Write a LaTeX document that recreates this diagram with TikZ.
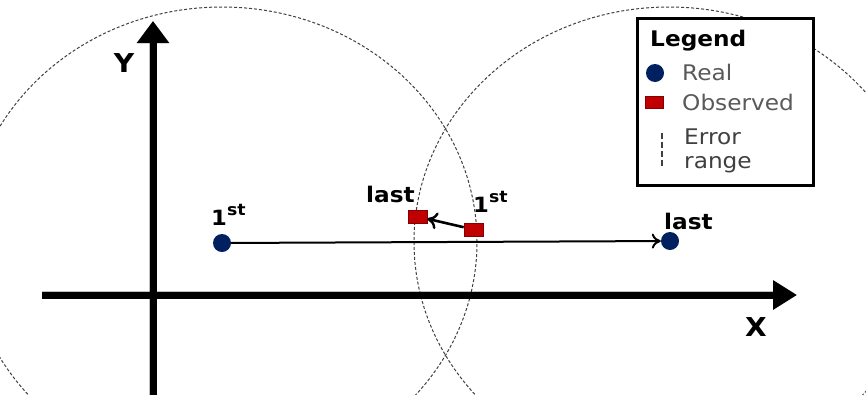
\documentclass[tikz,border=0pt]{standalone}
\usepackage{fontspec}
\setmainfont{DejaVu Sans}
\usetikzlibrary{arrows.meta}
\definecolor{navy}{HTML}{002060}
\definecolor{obsred}{HTML}{C00000}
\definecolor{lgray}{HTML}{5A5A5A}
\definecolor{dgray}{HTML}{404040}
\newcommand{\ordsup}[1]{{\fontsize{16}{16}\selectfont\raisebox{10pt}{#1}}}
\begin{document}
\begin{tikzpicture}[x=1pt,y=-1pt,
  errline/.style={dash pattern=on 3pt off 2pt, line width=1pt, black!75},
  axis/.style={line width=7pt},
  axshadow/.style={line width=8pt, black, opacity=0.25},
  realpt/.style={circle, fill=navy, minimum size=18pt, inner sep=0pt},
  obspt/.style={rectangle, fill=obsred, draw=obsred!70!black, line width=0.6pt, minimum width=19pt, minimum height=13pt, inner sep=0pt},
  lbl/.style={inner sep=0pt, anchor=base west, xscale=1.08, font=\fontsize{21.5}{24}\selectfont\bfseries},
  ordlbl/.style={inner sep=0pt, anchor=base west, xscale=1.08, font=\fontsize{21}{22}\selectfont\bfseries},
  axlbl/.style={inner sep=0pt, xscale=1.08, font=\fontsize{26}{28}\selectfont\bfseries},
  legtxt/.style={inner sep=0pt, anchor=base west, xscale=1.08, font=\fontsize{21.5}{24}\selectfont},
  conn/.style={line width=2pt, -{To[length=9pt,width=15pt,line width=2pt]}},
  obsconn/.style={line width=2.6pt, -{To[length=10pt,width=17pt,line width=2.4pt]}}
]
\useasboundingbox (0,0) rectangle (866,394);
\clip (0,0) rectangle (866,394);
\fill[white] (0,0) rectangle (866,394);

% error ranges
\draw[errline] (222,242) ellipse [x radius=255pt, y radius=235pt];
\draw[errline] (669,242) ellipse [x radius=255pt, y radius=235pt];

% axes
\coordinate (xs) at (42,295);
\coordinate (xe) at (797,295);
\coordinate (ys) at (153,400);
\coordinate (ye) at (153,21);
\begin{scope}[shift={(2,2)}]
\draw[axshadow, -{Triangle[length=24pt,width=28pt]}] (xs) -- (xe);
\draw[axshadow, -{Triangle[length=22pt,width=31pt]}] (ys) -- (ye);
\end{scope}
\draw[axis, -{Triangle[length=24pt,width=28pt]}] (xs) -- (xe);
\draw[axis, -{Triangle[length=22pt,width=31pt]}] (ys) -- (ye);
\node[axlbl] (ylab) at (124,63) {Y};
\node[axlbl] (xlab) at (756,327) {X};

% real points
\node[realpt] (r1) at (222,243) {};
\node[realpt] (rl) at (670,241) {};
\draw[conn] (r1) -- (rl);
\node[ordlbl] (r1lab) at (211,225) {1\ordsup{st}};
\node[lbl] (rllab) at (664,229) {last};

% observed points
\node[obspt] (ol) at (417.5,216.5) {};
\node[obspt] (o1) at (473.5,229.5) {};
\draw[obsconn] (o1) -- (ol);
\node[lbl] (ollab) at (366,202) {last};
\node[ordlbl] (o1lab) at (473,212) {1\ordsup{st}};

% legend
\begin{scope}[shift={(2,2)}]
\draw[line width=2.5pt, black, opacity=0.25] (636,17) rectangle (812,184);
\end{scope}
\node[draw, fill=white, line width=2.5pt, minimum width=176pt, minimum height=167pt, inner sep=0pt, anchor=north west] (legend) at (636,17) {};
\node[lbl] (legtitle) at (650,46) {Legend};
\node[realpt] (legreal) at (655,73) {};
\node[legtxt, text=lgray] (legrealtxt) at (682,80) {Real};
\node[obspt, minimum width=18pt, minimum height=12pt] (legobs) at (654,102) {};
\node[legtxt, text=lgray] (legobstxt) at (682,110) {Observed};
\coordinate (erra) at (662,133);
\coordinate (errb) at (662,168);
\draw[dash pattern=on 6pt off 3pt, line width=1.6pt, dgray] (erra) -- (errb);
\node[legtxt, text=dgray] (legerr1) at (684,144) {Error};
\node[legtxt, text=dgray] (legerr2) at (684,168) {range};
\end{tikzpicture}
\end{document}
